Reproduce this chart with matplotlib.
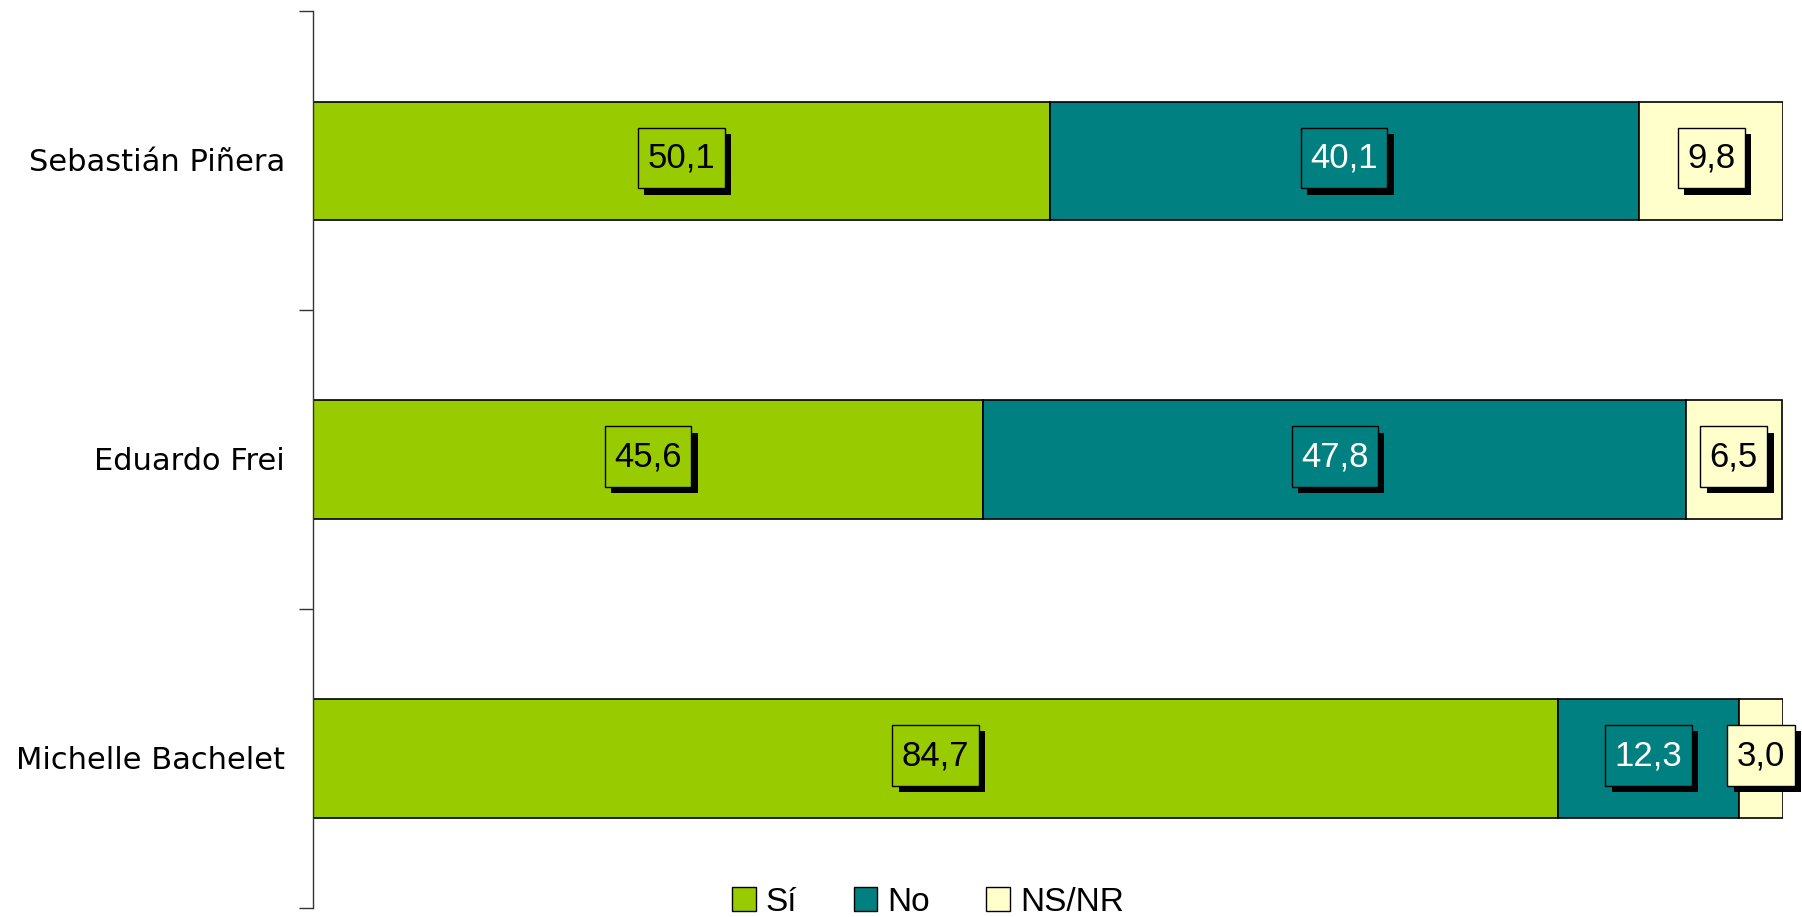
import matplotlib.pyplot as plt
import matplotlib.patheffects as pe
import numpy as np
from matplotlib.patches import Patch
from matplotlib.path import Path

# data (bottom to top, as drawn)
candidates = ["Michelle Bachelet", "Eduardo Frei", "Sebastián Piñera"]
si = [84.7, 45.6, 50.1]
no = [12.3, 47.8, 40.1]
nsnr = [3.0, 6.5, 9.8]
series_names = ["Sí", "No", "NS/NR"]

colors = ["#99CC00", "#008080", "#FFFFCC"]
text_colors = ["black", "white", "black"]


def label_box(x0, y0, width, height, mutation_size):
    # square box, a bit taller than wide padding (like the Excel data labels)
    px = 0.27 * mutation_size
    py = 0.40 * mutation_size
    x0, y0 = x0 - px, y0 - py
    x1, y1 = x0 + width + 2 * px, y0 + height + 2 * py
    return Path([(x0, y0), (x1, y0), (x1, y1), (x0, y1), (x0, y0)], closed=True)


fig = plt.figure(figsize=(18.02, 9.17), dpi=100)
ax = fig.add_axes([0.1737, 0.0098, 0.8158, 0.9777])

y = np.arange(len(candidates))
left = np.zeros(len(candidates))
for vals, col, tcol in zip([si, no, nsnr], colors, text_colors):
    vals = np.array(vals)
    ax.barh(y, vals, left=left, height=0.397, color=col, edgecolor="black", linewidth=1.2)
    for yi, l, v in zip(y, left, vals):
        t = ax.text(l + v / 2, yi + 0.01, f"{v:.1f}".replace(".", ","),
                    ha="center", va="center", fontsize=25, family="Liberation Sans",
                    color=tcol,
                    bbox=dict(boxstyle=label_box, facecolor=col, edgecolor="black", linewidth=1))
        t.get_bbox_patch().set_path_effects([
            pe.SimplePatchShadow(offset=(4.5, -4.5), shadow_rgbFace="black", alpha=1),
            pe.Normal()])
    left = left + vals

ax.set_xlim(0, 100)
ax.set_ylim(-0.5, 2.5)
ax.set_yticks(y + 0.005)
ax.set_yticklabels(candidates, fontsize=22, family="DejaVu Sans")
ax.set_yticks([-0.5, 0.5, 1.5, 2.5], minor=True)
ax.tick_params(axis="y", which="major", length=0, pad=20)
ax.tick_params(axis="y", which="minor", length=10, width=1, color="#333333")
ax.set_xticks([])
for s in ["top", "right", "bottom"]:
    ax.spines[s].set_visible(False)
ax.spines["left"].set_color("#333333")
ax.spines["left"].set_linewidth(1)

handles = [Patch(facecolor=c, edgecolor="black", linewidth=1) for c in colors]
fig.legend(handles, series_names, loc="center", bbox_to_anchor=(0.515, 0.016),
           ncol=3, frameon=False, prop={"family": "Liberation Sans", "size": 24},
           handlelength=0.7, handleheight=0.7, handletextpad=0.3, columnspacing=1.7)

fig.savefig("out.png", dpi=100)
